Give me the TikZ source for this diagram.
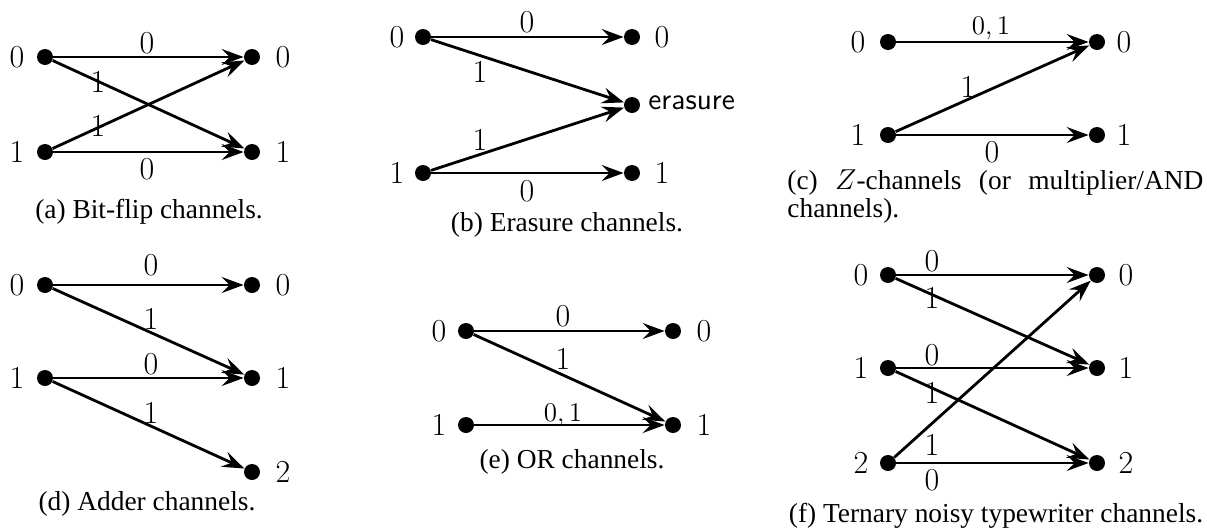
\documentclass[tikz,border=0pt]{standalone}
\usepackage[no-math]{fontspec}
\newfontfamily\capfont{Liberation Serif}
\usetikzlibrary{arrows.meta}
\newcommand\digitsize{\fontsize{16}{19}\selectfont}
\newcommand\erasize{\fontsize{15}{18}\selectfont}
\newcommand\smallsize{\fontsize{13.5}{16}\selectfont}
\newcommand\capsize{\fontsize{13.7}{16}\selectfont}
\begin{document}
\begin{tikzpicture}[x=0.5pt, y=-0.5pt,
  dot/.style={circle, fill=black, inner sep=0pt, minimum size=8pt},
  arr/.style={line width=1.4pt, -{Stealth[length=11pt, width=8pt, inset=4pt]}},
  sym/.style={inner sep=0pt, font=\digitsize},
  elab/.style={inner sep=0pt, font=\digitsize},
  slab/.style={inner sep=0pt, font=\smallsize, anchor=base},
  captext/.style={inner sep=0pt, font=\capfont\capsize, anchor=mid}]
\useasboundingbox (0,0) rectangle (1207,531);

% ---------- (a) Bit-flip ----------
\node[dot] (a0) at (45,57) {};
\node[dot] (a1) at (45,152) {};
\node[dot] (b0) at (252,57) {};
\node[dot] (b1) at (252,152) {};
\node[sym] (la0) at (17,57) {0};
\node[sym] (la1) at (17,152) {1};
\node[sym] (lb0) at (283,57) {0};
\node[sym] (lb1) at (283,152) {1};
\draw[arr] (a0) -- (b0);
\draw[arr] (a0) -- (b1);
\draw[arr] (a1) -- (b0);
\draw[arr] (a1) -- (b1);
\node[elab] (ea1) at (147,43) {0};
\node[elab] (ea2) at (98,82) {1};
\node[elab] (ea3) at (98,126) {1};
\node[elab] (ea4) at (147,169) {0};
\node[captext] (capa) at (149,214) {(a) Bit-flip channels.};

% ---------- (b) Erasure ----------
\node[dot] (p0) at (423,37) {};
\node[dot] (p1) at (423,173) {};
\node[dot] (q0) at (632,37) {};
\node[dot] (qe) at (632,105) {};
\node[dot] (q1) at (632,173) {};
\node[sym] (lp0) at (397,37) {0};
\node[sym] (lp1) at (397,173) {1};
\node[sym] (lq0) at (662,37) {0};
\node[sym] (lq1) at (662,173) {1};
\node[inner sep=0pt, font=\erasize\sffamily, anchor=mid west] (lqe) at (648,105) {erasure};
\draw[arr] (p0) -- (q0);
\draw[arr] (p0) -- (qe);
\draw[arr] (p1) -- (qe);
\draw[arr] (p1) -- (q1);
\node[elab] (eb1) at (527,22) {0};
\node[elab] (eb2) at (480,72) {1};
\node[elab] (eb3) at (480,140) {1};
\node[elab] (eb4) at (527,191) {0};
\node[captext] (capb) at (567,227) {(b) Erasure channels.};

% ---------- (c) Z-channel ----------
\node[dot] (c0) at (888,42) {};
\node[dot] (c1) at (888,135) {};
\node[dot] (d0) at (1097,42) {};
\node[dot] (d1) at (1097,135) {};
\node[sym] (lc0) at (858,42) {0};
\node[sym] (lc1) at (858,135) {1};
\node[sym] (ld0) at (1124,42) {0};
\node[sym] (ld1) at (1124,135) {1};
\draw[arr] (c0) -- (d0);
\draw[arr] (c1) -- (d0);
\draw[arr] (c1) -- (d1);
\node[slab] (ec1) at (991,34) {0,\,1};
\node[elab] (ec2) at (968,87) {1};
\node[elab] (ec3) at (992,152) {0};
\node[captext, anchor=mid west] (capc1) at (787,185) {\makebox[208pt][s]{(c) $Z$-channels (or multiplier/AND}};
\node[captext, anchor=mid west] (capc2) at (787,213) {channels).};

% ---------- (d) Adder ----------
\node[dot] (e0) at (45,285) {};
\node[dot] (e1) at (45,378) {};
\node[dot] (f0) at (252,285) {};
\node[dot] (f1) at (252,378) {};
\node[dot] (f2) at (252,472) {};
\node[sym] (le0) at (17,285) {0};
\node[sym] (le1) at (17,378) {1};
\node[sym] (lf0) at (283,285) {0};
\node[sym] (lf1) at (283,378) {1};
\node[sym] (lf2) at (283,472) {2};
\draw[arr] (e0) -- (f0);
\draw[arr] (e0) -- (f1);
\draw[arr] (e1) -- (f1);
\draw[arr] (e1) -- (f2);
\node[elab] (ed1) at (151,265) {0};
\node[elab] (ed2) at (151,319) {1};
\node[elab] (ed3) at (151,364) {0};
\node[elab] (ed4) at (151,413) {1};
\node[captext] (capd) at (147,506) {(d) Adder channels.};

% ---------- (e) OR ----------
\node[dot] (g0) at (466,331) {};
\node[dot] (g1) at (466,425) {};
\node[dot] (h0) at (673,331) {};
\node[dot] (h1) at (673,425) {};
\node[sym] (lg0) at (439,331) {0};
\node[sym] (lg1) at (439,425) {1};
\node[sym] (lh0) at (704,331) {0};
\node[sym] (lh1) at (704,425) {1};
\draw[arr] (g0) -- (h0);
\draw[arr] (g0) -- (h1);
\draw[arr] (g1) -- (h1);
\node[elab] (ee1) at (563,316) {0};
\node[elab] (ee2) at (563,359) {1};
\node[slab] (ee3) at (563,421) {0,\,1};
\node[captext] (cape) at (572,464) {(e) OR channels.};

% ---------- (f) Ternary noisy typewriter ----------
\node[dot] (m0) at (888,275) {};
\node[dot] (m1) at (888,368) {};
\node[dot] (m2) at (888,463) {};
\node[dot] (n0) at (1097,275) {};
\node[dot] (n1) at (1097,368) {};
\node[dot] (n2) at (1097,463) {};
\node[sym] (lm0) at (861,275) {0};
\node[sym] (lm1) at (861,368) {1};
\node[sym] (lm2) at (861,463) {2};
\node[sym] (ln0) at (1126,275) {0};
\node[sym] (ln1) at (1126,368) {1};
\node[sym] (ln2) at (1126,463) {2};
\draw[arr] (m0) -- (n0);
\draw[arr] (m0) -- (n1);
\draw[arr] (m1) -- (n1);
\draw[arr] (m1) -- (n2);
\draw[arr] (m2) -- (n0);
\draw[arr] (m2) -- (n2);
\node[elab] (ef1) at (932,261) {0};
\node[elab] (ef2) at (932,298) {1};
\node[elab] (ef3) at (932,355) {0};
\node[elab] (ef4) at (932,393) {1};
\node[elab] (ef5) at (932,445) {1};
\node[elab] (ef6) at (932,480) {0};
\node[captext] (capf) at (996,518) {(f) Ternary noisy typewriter channels.};
\end{tikzpicture}
\end{document}
